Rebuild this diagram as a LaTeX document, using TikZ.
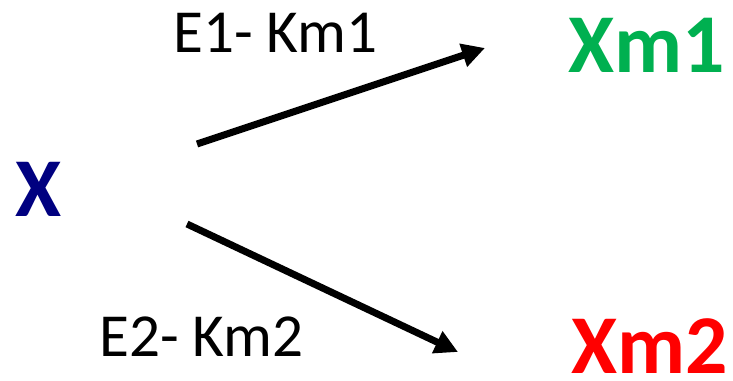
\documentclass[tikz,border=0pt]{standalone}
\usepackage{fontspec}
\setmainfont{Carlito}
\usetikzlibrary{arrows.meta}
\definecolor{xblue}{RGB}{0,0,128}
\definecolor{xgreen}{RGB}{0,176,80}
\definecolor{xred}{RGB}{255,0,0}
\begin{document}
\begin{tikzpicture}[x=0.02cm, y=-0.02cm,
    species/.style={inner sep=0pt, anchor=base west, font=\fontsize{47.6}{50}\selectfont\bfseries},
    enzyme/.style={inner sep=0pt, anchor=base west, font=\fontsize{34.8}{38}\selectfont},
    react/.style={line width=0.14cm, -{Triangle[length=0.46cm, width=0.46cm]}}]
                \useasboundingbox (0,0) rectangle (733,381);

                % Species
                \node[species, xblue] (x) at (15,217) {X};
                \node[species, xgreen] (xm1) at (568,73) {Xm1};
                \node[species, xred] (xm2) at (571,373) {Xm2};

                % Enzyme labels
                \node[enzyme] (e1) at (173,53) {E1- Km1};
                \node[enzyme] (e2) at (99,357) {E2- Km2};

                % Arrow ends
                \coordinate (s1) at (197,144);
                \coordinate (t1) at (485,48);
                \coordinate (s2) at (187,224);
                \coordinate (t2) at (458,352);

                \draw[react] (s1) -- (t1);
                \draw[react] (s2) -- (t2);
\end{tikzpicture}
\end{document}
